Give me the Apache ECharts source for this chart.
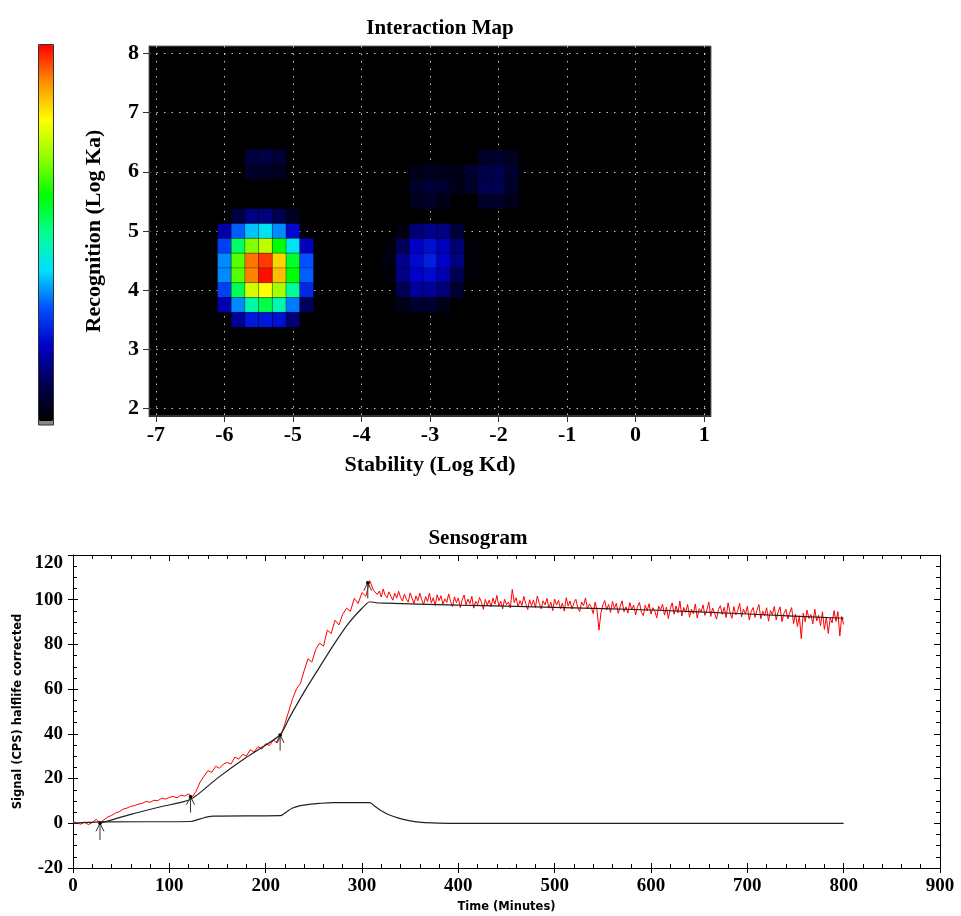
<!DOCTYPE html>
<html><head><meta charset="utf-8">
<script src="https://cdn.jsdelivr.net/npm/echarts@6/dist/echarts.min.js"></script>
<style>html,body{margin:0;padding:0;background:#fff}#c{width:961px;height:916px}</style>
</head><body><div id="c"></div>
<script>
// ---------- Interaction map data ----------
const X_TICKS = [-7, -6, -5, -4, -3, -2, -1, 0, 1];
const Y_TICKS = [2, 3, 4, 5, 6, 7, 8];
// [log Kd, log Ka, relative intensity]
const HEAT_CELLS = [
  // main peak
  [-5.8,5.25,0.08],[-5.6,5.25,0.14],[-5.4,5.25,0.14],[-5.2,5.25,0.10],[-5.0,5.25,0.04],
  [-6.0,5.0,0.17],[-5.8,5.0,0.31],[-5.6,5.0,0.38],[-5.4,5.0,0.41],[-5.2,5.0,0.34],[-5.0,5.0,0.21],
  [-6.0,4.75,0.28],[-5.8,4.75,0.53],[-5.6,4.75,0.69],[-5.4,4.75,0.74],[-5.2,4.75,0.60],[-5.0,4.75,0.41],[-4.8,4.75,0.19],
  [-6.0,4.5,0.34],[-5.8,4.5,0.66],[-5.6,4.5,0.92],[-5.4,4.5,0.96],[-5.2,4.5,0.84],[-5.0,4.5,0.57],[-4.8,4.5,0.30],
  [-6.0,4.25,0.34],[-5.8,4.25,0.66],[-5.6,4.25,0.91],[-5.4,4.25,0.99],[-5.2,4.25,0.86],[-5.0,4.25,0.60],[-4.8,4.25,0.31],
  [-6.0,4.0,0.28],[-5.8,4.0,0.54],[-5.6,4.0,0.76],[-5.4,4.0,0.80],[-5.2,4.0,0.72],[-5.0,4.0,0.49],[-4.8,4.0,0.25],
  [-6.0,3.75,0.18],[-5.8,3.75,0.34],[-5.6,3.75,0.48],[-5.4,3.75,0.55],[-5.2,3.75,0.47],[-5.0,3.75,0.33],[-4.8,3.75,0.11],
  [-5.8,3.5,0.16],[-5.6,3.5,0.23],[-5.4,3.5,0.23],[-5.2,3.5,0.22],[-5.0,3.5,0.13],
  // faint patch above main peak
  [-5.6,6.25,0.08],[-5.4,6.25,0.09],[-5.2,6.25,0.07],
  [-5.6,6.0,0.05],[-5.4,6.0,0.05],[-5.2,6.0,0.04],
  // second peak
  [-3.4,5.0,0.02],[-3.2,5.0,0.13],[-3.0,5.0,0.15],[-2.8,5.0,0.14],[-2.6,5.0,0.07],
  [-3.6,4.75,0.015],[-3.4,4.75,0.11],[-3.2,4.75,0.20],[-3.0,4.75,0.22],[-2.8,4.75,0.19],[-2.6,4.75,0.13],[-2.4,4.75,0.015],
  [-3.6,4.5,0.02],[-3.4,4.5,0.15],[-3.2,4.5,0.21],[-3.0,4.5,0.24],[-2.8,4.5,0.20],[-2.6,4.5,0.14],[-2.4,4.5,0.015],
  [-3.6,4.25,0.015],[-3.4,4.25,0.14],[-3.2,4.25,0.20],[-3.0,4.25,0.21],[-2.8,4.25,0.18],[-2.6,4.25,0.10],[-2.4,4.25,0.01],
  [-3.4,4.0,0.10],[-3.2,4.0,0.16],[-3.0,4.0,0.16],[-2.8,4.0,0.13],[-2.6,4.0,0.06],
  [-3.4,3.75,0.03],[-3.2,3.75,0.06],[-3.0,3.75,0.06],[-2.8,3.75,0.03],
  // faint patch near (-3, 5.75)
  [-3.2,6.0,0.03],[-3.0,6.0,0.04],[-2.8,6.0,0.03],
  [-3.2,5.75,0.05],[-3.0,5.75,0.07],[-2.8,5.75,0.06],[-2.6,5.75,0.03],
  [-3.2,5.5,0.04],[-3.0,5.5,0.05],[-2.8,5.5,0.03],
  // faint patch near (-2, 6)
  [-2.2,6.25,0.05],[-2.0,6.25,0.06],[-1.8,6.25,0.04],
  [-2.6,6.0,0.03],[-2.4,6.0,0.06],[-2.2,6.0,0.09],[-2.0,6.0,0.10],[-1.8,6.0,0.06],
  [-2.4,5.75,0.05],[-2.2,5.75,0.10],[-2.0,5.75,0.10],[-1.8,5.75,0.05],
  [-2.2,5.5,0.05],[-2.0,5.5,0.05],[-1.8,5.5,0.03]
];
const CELL_SIZE = [0.2, 0.25]; // bin width in log units (x, y)

// ---------- Sensogram data ----------
const TIME_MAX = 900;
const SIGNAL_T = [0,4,8,12,16,20,24,28,32,36,40,44,48,52,56,60,64,68,72,76,80,84,88,92,96,100,
104,108,112,116,120,124,128,132,136,140,144,148,152,156,160,164,168,172,176,180,184,188,192,196,200,
204,208,212,216,220,224,228,232,236,240,244,248,252,256,260,264,268,272,276,280,284,288,292,296,300,
304,308,312,
314,316,318,320,322,324,326,328,330,332,334,336,338,340,342,344,346,348,350,352,
354,356,358,360,362,364,366,368,370,372,374,376,378,380,382,384,386,388,390,392,
394,396,398,400,402,404,406,408,410,412,414,416,418,420,422,424,426,428,430,432,
434,436,438,440,442,444,446,448,450,452,454,456,458,460,462,464,466,468,470,472,
474,476,478,480,482,484,486,488,490,492,494,496,498,500,502,504,506,508,510,512,
514,516,518,520,522,524,526,528,530,532,534,536,538,540,542,544,546,548,550,552,
554,556,558,560,562,564,566,568,570,572,574,576,578,580,582,584,586,588,590,592,
594,596,598,600,602,604,606,608,610,612,614,616,618,620,622,624,626,628,630,632,
634,636,638,640,642,644,646,648,650,652,654,656,658,660,662,664,666,668,670,672,
674,676,678,680,682,684,686,688,690,692,694,696,698,700,702,704,706,708,710,712,
714,716,718,720,722,724,726,728,730,732,734,736,738,740,742,744,746,748,750,752,
754,756,758,760,762,764,766,768,770,772,774,776,778,780,782,784,786,788,790,792,
794,796,798,800];
const SIGNAL_V = [0.8,0.2,-0.4,0.5,-0.6,0.3,1.8,0.2,
1.5,2.8,3.5,4.6,5.2,6.3,6.8,7.6,7.9,8.6,8.9,9.8,9.4,10.3,10.1,11.2,10.8,11.6,12.0,11.4,12.6,12.2,13.1,
11.8,14.5,18.5,21.0,23.5,22.8,25.5,24.6,26.4,27.2,26.5,29.6,28.7,30.8,30.1,32.9,31.8,34.3,33.2,35.6,34.8,37.2,35.9,39.5,
44.5,50.2,55.8,60.1,62.5,68.3,73.6,72.1,77.8,80.6,79.2,86.4,84.9,90.8,88.7,93.5,96.2,94.8,100.6,98.3,103.2,101.5,108.5,104.2,
104.6,102.3,103.9,101.2,104.8,102.0,100.9,103.5,101.6,99.8,
102.9,100.7,103.8,101.1,99.4,102.5,100.2,98.9,103.1,100.6,
98.3,101.7,99.5,102.9,100.0,97.8,101.4,99.2,103.0,98.6,
100.9,97.4,102.2,99.6,101.8,97.9,100.4,98.8,102.6,99.1,
96.9,101.3,98.7,100.8,96.5,99.9,102.1,97.8,100.3,98.2,
101.5,96.2,99.4,97.7,101.0,98.9,95.7,100.1,97.5,99.8,
96.8,100.7,98.0,101.9,97.1,99.3,95.9,100.2,97.8,99.0,
96.3,104.6,98.7,100.9,96.9,99.6,97.4,101.5,98.2,95.6,
100.0,97.3,99.8,96.5,101.7,98.4,95.9,99.5,97.7,100.6,
96.2,98.9,95.1,100.3,97.6,99.7,96.0,98.5,94.9,100.9,
97.2,99.4,95.8,98.6,100.2,96.4,94.7,99.0,97.3,100.8,
95.9,98.1,96.6,93.8,98.9,95.0,86.4,94.1,97.7,99.6,
95.4,97.9,94.3,99.2,96.1,98.4,93.9,97.0,99.5,94.6,
96.8,94.0,98.7,95.5,97.6,93.2,96.9,98.8,94.4,92.9,
97.5,95.0,98.2,93.6,96.4,94.8,91.9,97.1,95.3,98.0,
93.1,96.7,91.6,95.9,98.6,93.5,97.2,94.1,99.4,92.7,
96.5,94.3,97.9,92.2,95.8,93.7,98.1,91.8,96.0,94.6,
97.7,93.0,95.4,99.0,92.5,96.3,94.0,91.3,95.7,97.3,
93.4,96.6,92.0,98.6,94.5,91.7,96.9,93.2,95.0,98.4,
92.3,95.8,93.6,97.1,90.9,94.7,96.5,92.1,95.3,97.8,
91.5,94.9,92.8,96.4,90.4,95.2,93.3,97.0,91.0,94.6,
96.8,90.2,93.9,95.7,91.4,94.2,96.5,89.3,93.6,88.0,
92.8,82.6,94.0,90.1,95.3,91.6,93.4,89.2,95.8,90.5,
93.1,88.4,94.6,86.7,92.2,84.9,91.8,89.6,95.1,90.3,
94.7,83.8,92.5,88.9];
const FIT_T = [28, 60, 90, 122, 150, 180, 215, 225, 240, 255, 270, 285, 300, 308, 316, 400, 500, 600, 700, 800];
const FIT_V = [0, 4.0, 7.3, 10.6, 20.2, 29.5, 39.5, 47.5, 58.8, 69.2, 79.5, 88.9, 96.2, 99.1, 98.6, 97.6, 96.6, 95.4, 93.6, 91.7];
const BASE_T = [0, 28, 122, 132, 145, 215, 220, 228, 236, 245, 256, 270, 308, 314, 320, 328, 338, 350, 362, 380, 400, 800];
const BASE_V = [0, 0.6, 0.8, 2.0, 3.2, 3.4, 4.6, 6.8, 7.9, 8.5, 8.9, 9.2, 9.2, 7.4, 5.6, 3.8, 2.3, 1.1, 0.4, 0.1, 0, 0];
// injection arrows: [time, from, to]
const ARROWS = [[28, -7.5, 0], [122, 4.8, 11.9], [215, 32.5, 39.5], [306, 100.6, 107.6]];

const zip = (a, b) => a.map((v, i) => [v, b[i]]);
const SERIF = 'Liberation Serif';
const SANS = 'DejaVu Sans';
const isTick = (v, list) => list.some(t => Math.abs(t - v) < 1e-6);

const chart = echarts.init(document.getElementById('c'), null, {renderer: 'canvas'});
chart.setOption({
  animation: false,
  backgroundColor: '#fff',
  title: [
    {text: 'Interaction Map', left: 435, top: 13, textAlign: 'center',
     textStyle: {fontFamily: SERIF, fontWeight: 'bold', fontSize: 21, color: '#000'}},
    {text: 'Sensogram', left: 473, top: 523, textAlign: 'center',
     textStyle: {fontFamily: SERIF, fontWeight: 'bold', fontSize: 21, color: '#000'}}
  ],
  graphic: [
    {type: 'rect', x: 38.5, y: 421, shape: {x: 0, y: 0, width: 15, height: 4}, style: {fill: '#888'}, z: 10},
    {type: 'rect', x: 38.5, y: 44.5, shape: {x: 0, y: 0, width: 15, height: 380.5}, style: {fill: null, stroke: '#333', lineWidth: 1}, z: 11}
  ],
  grid: [
    {left: 149, top: 46, width: 562, height: 370, show: true, backgroundColor: '#000', borderColor: '#666', borderWidth: 1},
    {left: 73, top: 555, width: 867, height: 313, show: false}
  ],
  visualMap: {
    type: 'continuous', seriesIndex: 0, dimension: 2, min: 0, max: 1,
    left: 38, top: 45, itemWidth: 16, itemHeight: 376, calculable: false,
    padding: 0, text: null, showLabel: false,
    inRange: {color: ['#000000', '#000050', '#0000c8', '#0050ff', '#00e0ff', '#00ff90', '#00ff00', '#90ff00', '#ffff00', '#ff9000', '#ff0000']}
  },
  xAxis: [
    {gridIndex: 0, type: 'value', min: -7.1, max: 1.1, splitNumber: 8, position: 'bottom',
     axisLine: {show: true, onZero: false, lineStyle: {color: '#333'}},
     axisTick: {show: true, length: 6, customValues: X_TICKS, lineStyle: {color: '#333'}},
     axisLabel: {customValues: X_TICKS, formatter: v => isTick(v, X_TICKS) ? String(Math.round(v)) : '',
       fontFamily: SERIF, fontWeight: 'bold', fontSize: 22, color: '#000', margin: 8},
     splitLine: {show: true, lineStyle: {color: '#c8c8c8', width: 1, type: [1.5, 6]}},
     name: 'Stability (Log Kd)', nameLocation: 'middle', nameGap: 38,
     nameTextStyle: {fontFamily: SERIF, fontWeight: 'bold', fontSize: 22, color: '#000'}},
    {gridIndex: 1, type: 'value', min: 0, max: TIME_MAX, interval: 100, position: 'bottom',
     axisLine: {show: true, onZero: false, lineStyle: {color: '#000'}},
     axisTick: {show: true, inside: true, length: 5, lineStyle: {color: '#000'}},
     minorTick: {show: true, splitNumber: 5, length: 4, lineStyle: {color: '#000'}},
     axisLabel: {fontFamily: SERIF, fontWeight: 'bold', fontSize: 19, color: '#000', margin: 9},
     splitLine: {show: false},
     name: 'Time (Minutes)', nameLocation: 'middle', nameGap: 33,
     nameTextStyle: {fontFamily: SANS, fontWeight: 'bold', fontSize: 11.5, color: '#000'}},
    {gridIndex: 1, type: 'value', min: 0, max: TIME_MAX, interval: 100, position: 'bottom',
     axisLine: {show: false, onZero: false}, axisTick: {show: true, inside: false, length: 5, lineStyle: {color: '#000'}},
     axisLabel: {show: false}, splitLine: {show: false}},
    {gridIndex: 1, type: 'value', min: 0, max: TIME_MAX, interval: 100, position: 'top',
     axisLine: {show: true, onZero: false, lineStyle: {color: '#000'}},
     axisTick: {show: true, inside: true, length: 6, lineStyle: {color: '#000'}},
     minorTick: {show: true, splitNumber: 5, length: 4, lineStyle: {color: '#000'}},
     axisLabel: {show: false}, splitLine: {show: false}}
  ],
  yAxis: [
    {gridIndex: 0, type: 'value', min: 1.875, max: 8.125, splitNumber: 6,
     axisLine: {show: true, onZero: false, lineStyle: {color: '#333'}},
     axisTick: {show: true, length: 6, customValues: Y_TICKS, lineStyle: {color: '#333'}},
     axisLabel: {customValues: Y_TICKS, formatter: v => isTick(v, Y_TICKS) ? String(Math.round(v)) : '',
       fontFamily: SERIF, fontWeight: 'bold', fontSize: 22, color: '#000', margin: 10},
     splitLine: {show: true, lineStyle: {color: '#c8c8c8', width: 1, type: [1.5, 6]}},
     name: 'Recognition (Log Ka)', nameLocation: 'middle', nameGap: 44,
     nameTextStyle: {fontFamily: SERIF, fontWeight: 'bold', fontSize: 22, color: '#000'}},
    {gridIndex: 1, type: 'value', min: -20, max: 120, interval: 20, position: 'left',
     axisLine: {show: true, onZero: false, lineStyle: {color: '#000'}},
     axisTick: {show: true, inside: true, length: 5, lineStyle: {color: '#000'}},
     minorTick: {show: true, splitNumber: 4, length: 4, lineStyle: {color: '#000'}},
     axisLabel: {fontFamily: SERIF, fontWeight: 'bold', fontSize: 19, color: '#000', margin: 10,
       formatter: v => v === 120 ? '{top|120}' : String(v),
       rich: {top: {fontFamily: SERIF, fontWeight: 'bold', fontSize: 19, color: '#000', padding: [16, 0, 0, 0]}}},
     splitLine: {show: false},
     name: 'Signal (CPS) halflife corrected', nameLocation: 'middle', nameGap: 46,
     nameTextStyle: {fontFamily: SANS, fontWeight: 'bold', fontSize: 11.5, color: '#000'}},
    {gridIndex: 1, type: 'value', min: -20, max: 120, interval: 20, position: 'left',
     axisLine: {show: false, onZero: false}, axisTick: {show: true, inside: false, length: 5, lineStyle: {color: '#000'}},
     axisLabel: {show: false}, splitLine: {show: false}},
    {gridIndex: 1, type: 'value', min: -20, max: 120, interval: 20, position: 'right',
     axisLine: {show: true, onZero: false, lineStyle: {color: '#000'}},
     axisTick: {show: true, inside: true, length: 6, lineStyle: {color: '#000'}},
     minorTick: {show: true, splitNumber: 4, length: 4, lineStyle: {color: '#000'}},
     axisLabel: {show: false}, splitLine: {show: false}}
  ],
  series: [
    {type: 'custom', xAxisIndex: 0, yAxisIndex: 0, data: HEAT_CELLS, encode: {x: 0, y: 1},
     renderItem: (params, api) => {
       const c = api.coord([api.value(0), api.value(1)]);
       const s = api.size(CELL_SIZE);
       return {type: 'rect', shape: {x: c[0] - s[0] / 2, y: c[1] - s[1] / 2, width: s[0], height: s[1]},
               style: {fill: api.visual('color'), stroke: 'rgba(0,0,0,0.22)', lineWidth: 1}};
     }, z: 1},
    {type: 'line', xAxisIndex: 1, yAxisIndex: 1, data: zip(SIGNAL_T, SIGNAL_V), symbol: 'none',
     lineStyle: {color: '#ff0000', width: 1}, z: 2},
    {type: 'line', xAxisIndex: 1, yAxisIndex: 1, data: zip(FIT_T, FIT_V), symbol: 'none', smooth: 0.2,
     lineStyle: {color: '#222', width: 1.2}, z: 3},
    {type: 'line', xAxisIndex: 1, yAxisIndex: 1, data: zip(BASE_T, BASE_V), symbol: 'none', smooth: 0.3,
     lineStyle: {color: '#222', width: 1.2}, z: 3},
    {type: 'custom', xAxisIndex: 1, yAxisIndex: 1, data: ARROWS, encode: {x: 0, y: [1, 2]}, z: 4,
     renderItem: (params, api) => {
       const a = api.coord([api.value(0), api.value(1)]);
       const b = api.coord([api.value(0), api.value(2)]);
       return {type: 'group', children: [
         {type: 'line', shape: {x1: a[0], y1: a[1], x2: b[0], y2: b[1]}, style: {stroke: '#333', lineWidth: 1}},
         {type: 'polyline', shape: {points: [[b[0] - 4, b[1] + 8], [b[0], b[1]], [b[0] + 4, b[1] + 8]]},
          style: {stroke: '#333', fill: null, lineWidth: 1}},
         {type: 'circle', shape: {cx: b[0], cy: b[1], r: 1.8}, style: {fill: '#000'}}
       ]};
     }}
  ]
});
</script></body></html>
